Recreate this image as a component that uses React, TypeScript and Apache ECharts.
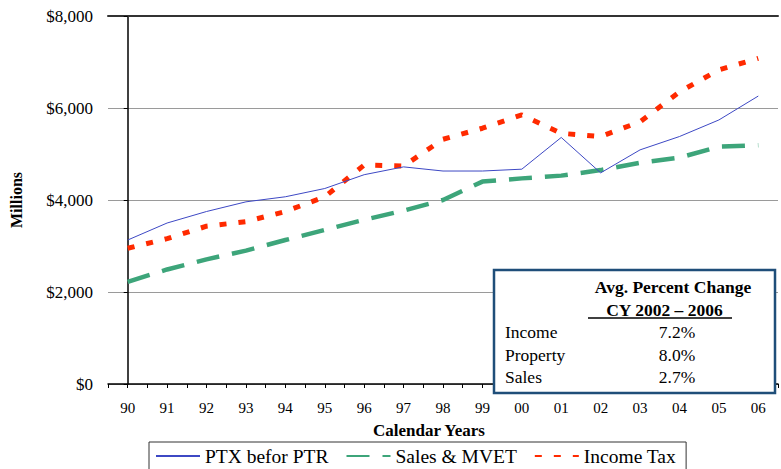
import React, { useEffect, useRef } from "react";
import * as echarts from "echarts";

const categories = ["90", "91", "92", "93", "94", "95", "96", "97", "98", "99", "00", "01", "02", "03", "04", "05", "06"];
const ptxBeforPtr = [3130, 3500, 3750, 3960, 4070, 4250, 4550, 4720, 4630, 4630, 4670, 5360, 4590, 5090, 5380, 5740, 6260];
const salesMvet = [2220, 2490, 2710, 2900, 3130, 3350, 3570, 3770, 4000, 4400, 4470, 4530, 4650, 4810, 4920, 5160, 5190];
const incomeTax = [2950, 3160, 3430, 3530, 3750, 4070, 4760, 4740, 5320, 5560, 5850, 5450, 5380, 5700, 6350, 6830, 7080];
const yTicks = [0, 2000, 4000, 6000, 8000];
const tableTitle = ["Avg. Percent Change", "  CY 2002 – 2006"];
const tableRows = ["Income", "Property", "Sales"];
const tableValues = ["7.2%", "8.0%", "2.7%"];

const SERIF = "Liberation Serif";

export default function App() {
  const ref = useRef<HTMLDivElement>(null);
  useEffect(() => {
    if (!ref.current) return;
    const chart = echarts.init(ref.current, null, { renderer: "svg" });
    const toPairs = (arr: number[]) => categories.map((_, i) => [i, arr[i]]);
    const rowY = [332, 354.5, 377];
    const Z = 100;
    chart.setOption({
      animation: false,
      backgroundColor: "#fff",
      textStyle: { fontFamily: SERIF },
      grid: { left: 102, top: 16, bottom: 85, right: -7, containLabel: false },
      xAxis: [
        {
          type: "value",
          min: -0.5,
          max: categories.length - 0.5,
          interval: 0.5,
          axisLine: { show: true, lineStyle: { color: "#000", width: 1.5 } },
          axisTick: { show: true, length: 4, lineStyle: { color: "#000" } },
          splitLine: { show: false },
          axisLabel: {
            margin: 16,
            fontSize: 15,
            fontFamily: SERIF,
            color: "#000",
            formatter: (v: number) => (Number.isInteger(v) && v >= 0 && v < categories.length ? categories[v] : ""),
          },
        },
        {
          type: "value",
          position: "top",
          min: -0.5,
          max: categories.length - 0.5,
          axisLine: { show: true, lineStyle: { color: "#333", width: 2 } },
          axisTick: { show: false },
          axisLabel: { show: false },
          splitLine: { show: false },
        },
      ],
      yAxis: {
        type: "value",
        min: yTicks[0],
        max: yTicks[yTicks.length - 1],
        interval: 2000,
        name: "Millions",
        nameLocation: "middle",
        nameRotate: 90,
        nameGap: 84,
        nameTextStyle: { fontSize: 16, fontWeight: "bold", fontFamily: SERIF, color: "#000" },
        axisLine: { show: true, lineStyle: { color: "#000", width: 1.5 } },
        axisTick: { show: true, length: 4, lineStyle: { color: "#000" } },
        splitLine: { show: true, lineStyle: { color: "#9a9a9a", width: 1 } },
        axisLabel: {
          margin: 15,
          fontSize: 17,
          fontFamily: SERIF,
          color: "#000",
          formatter: (v: number) => "$" + v.toLocaleString("en-US"),
        },
      },
      legend: {
        left: 149,
        top: 442,
        orient: "horizontal",
        borderColor: "#333",
        borderWidth: 1,
        padding: [4, 10, 6, 6],
        itemWidth: 44,
        itemHeight: 14,
        itemGap: 17,
        itemStyle: { opacity: 0 },
        textStyle: { fontSize: 19.5, fontFamily: SERIF, color: "#000" },
        data: ["PTX befor PTR", "Sales & MVET", "Income Tax"],
      },
      series: [
        {
          name: "PTX befor PTR",
          type: "line",
          xAxisIndex: 0,
          data: toPairs(ptxBeforPtr),
          symbol: "none",
          lineStyle: { color: "#3D48C4", width: 1 },
          itemStyle: { color: "#3D48C4" },
          z: 4,
        },
        {
          name: "Sales & MVET",
          type: "line",
          xAxisIndex: 0,
          data: toPairs(salesMvet),
          symbol: "none",
          lineStyle: { color: "#3DA57A", width: 4.5, type: [23, 13], cap: "butt" },
          itemStyle: { color: "#3DA57A" },
          z: 2,
        },
        {
          name: "Income Tax",
          type: "line",
          xAxisIndex: 0,
          data: toPairs(incomeTax),
          symbol: "none",
          lineStyle: { color: "#FF2A00", width: 5, type: [7, 12], cap: "butt" },
          itemStyle: { color: "#FF2A00" },
          z: 3,
        },
      ],
      graphic: [
        {
          type: "text",
          left: 430 - 57,
          top: 422,
          style: { text: "Calendar Years", fontSize: 17, fontWeight: "bold", fontFamily: SERIF, fill: "#000" },
        },
        {
          type: "rect",
          z: Z,
          shape: { x: 494, y: 270, width: 281, height: 123 },
          style: { fill: "#fff", stroke: "#1F4E79", lineWidth: 2.5 },
        },
        {
          type: "text",
          z: Z + 1,
          x: 673,
          y: 287,
          style: { text: tableTitle[0], fontSize: 17.5, fontWeight: "bold", fontFamily: SERIF, fill: "#000", align: "center", verticalAlign: "middle" },
        },
        {
          type: "text",
          z: Z + 1,
          x: 660,
          y: 310,
          style: { text: tableTitle[1], fontSize: 17.5, fontWeight: "bold", fontFamily: SERIF, fill: "#000", align: "center", verticalAlign: "middle" },
        },
        {
          type: "line",
          z: Z + 1,
          shape: { x1: 588, y1: 318, x2: 732, y2: 318 },
          style: { stroke: "#000", lineWidth: 1.5 },
        },
        ...tableRows.map((r, i) => ({
          type: "text",
          z: Z + 1,
          x: 505,
          y: rowY[i],
          style: { text: r, fontSize: 17.5, fontFamily: SERIF, fill: "#000", align: "left", verticalAlign: "middle" },
        })),
        ...tableValues.map((v, i) => ({
          type: "text",
          z: Z + 1,
          x: 677,
          y: rowY[i],
          style: { text: v, fontSize: 17.5, fontFamily: SERIF, fill: "#000", align: "center", verticalAlign: "middle" },
        })),
      ],
    });
    return () => chart.dispose();
  }, []);
  return <div ref={ref} style={{ width: 781, height: 469, position: "absolute", left: 0, top: 0 }} />;
}
